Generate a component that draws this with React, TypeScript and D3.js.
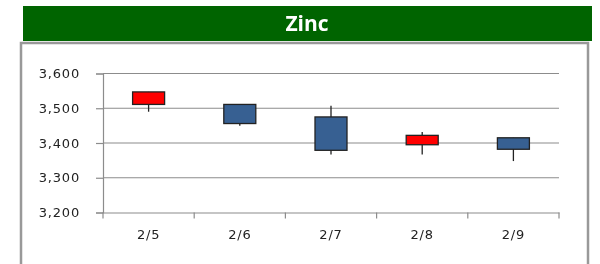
import React, { useEffect, useRef } from 'react';
import * as d3 from 'd3';

const dates = ['2/5', '2/6', '2/7', '2/8', '2/9'];
const openPrices = [3511, 3511, 3475, 3395, 3415];
const closePrices = [3547, 3456, 3379, 3422, 3382];
const highPrices = [3547, 3511, 3507, 3432, 3415];
const lowPrices = [3490, 3450, 3367, 3367, 3348];
const yTicks = [3200, 3300, 3400, 3500, 3600];

export default function App() {
  const svgRef = useRef<SVGSVGElement>(null);
  const width = 600;
  const height = 264;

  useEffect(() => {
    const svg = d3.select(svgRef.current);
    svg.selectAll('*').remove();

    const data = dates.map((d, i) => ({
      date: d,
      open: openPrices[i],
      close: closePrices[i],
      high: highPrices[i],
      low: lowPrices[i],
    }));

    // frame + title banner
    svg.append('rect')
      .attr('x', 21).attr('y', 43).attr('width', 567).attr('height', 240)
      .attr('fill', '#fff').attr('stroke', '#999').attr('stroke-width', 2.5);
    svg.append('rect')
      .attr('x', 23).attr('y', 6).attr('width', 569).attr('height', 35)
      .attr('fill', '#006400');
    svg.append('text')
      .attr('x', 307).attr('y', 31)
      .attr('text-anchor', 'middle')
      .attr('fill', '#fff')
      .style('font-family', '"Open Sans", sans-serif')
      .style('font-weight', 'bold')
      .style('font-size', '21px')
      .text('Zinc');

    const x = d3.scaleBand().domain(dates).range([103, 559]);
    const y = d3.scaleLinear().domain([3200, 3600]).range([212.5, 73.5]);

    // gridlines
    svg.append('g')
      .selectAll('line')
      .data(yTicks.slice(1))
      .join('line')
      .attr('x1', 103).attr('x2', 559)
      .attr('y1', (d) => y(d)).attr('y2', (d) => y(d))
      .attr('stroke', '#8c8c8c').attr('stroke-width', 1.2);

    const yAxis = d3.axisLeft(y)
      .tickValues(yTicks)
      .tickSize(7)
      .tickPadding(16)
      .tickFormat(d3.format(','));
    const gy = svg.append('g')
      .attr('transform', 'translate(103,0)')
      .call(yAxis);

    const xAxis = d3.axisBottom(x).tickSize(0).tickPadding(17);
    const gx = svg.append('g')
      .attr('transform', `translate(0,${y(3200)})`)
      .call(xAxis);

    // x ticks at band edges
    const edges = dates.map((d) => x(d)!).concat([559]);
    gx.selectAll('.edge')
      .data(edges)
      .join('line')
      .attr('class', 'edge')
      .attr('x1', (d) => d).attr('x2', (d) => d)
      .attr('y1', 0).attr('y2', 6)
      .attr('stroke', '#8c8c8c').attr('stroke-width', 1.2);

    [gx, gy].forEach((g) => {
      g.select('.domain').attr('stroke', '#8c8c8c').attr('stroke-width', 1.2);
      g.selectAll('.tick line').attr('stroke', '#8c8c8c').attr('stroke-width', 1.2);
      g.selectAll('.tick text')
        .attr('fill', '#222')
        .style('font-family', '"DejaVu Sans", sans-serif')
        .style('font-size', '13px')
        .style('letter-spacing', '0.8px');
    });

    const bw = 32;
    const candles = svg.append('g')
      .selectAll('g')
      .data(data)
      .join('g');

    candles.append('line')
      .attr('x1', (d) => x(d.date)! + x.bandwidth() / 2)
      .attr('x2', (d) => x(d.date)! + x.bandwidth() / 2)
      .attr('y1', (d) => y(d.high))
      .attr('y2', (d) => y(d.low))
      .attr('stroke', '#222').attr('stroke-width', 1.3);

    candles.append('rect')
      .attr('x', (d) => x(d.date)! + x.bandwidth() / 2 - bw / 2)
      .attr('width', bw)
      .attr('y', (d) => y(Math.max(d.open, d.close)))
      .attr('height', (d) => Math.abs(y(d.open) - y(d.close)))
      .attr('fill', (d) => (d.close > d.open ? '#ff0000' : '#376092'))
      .attr('stroke', '#222').attr('stroke-width', 1.3);
  }, []);

  return (
    <div style={{ position: 'fixed', left: 0, top: 0 }}>
      <svg ref={svgRef} width={width} height={height} />
    </div>
  );
}
